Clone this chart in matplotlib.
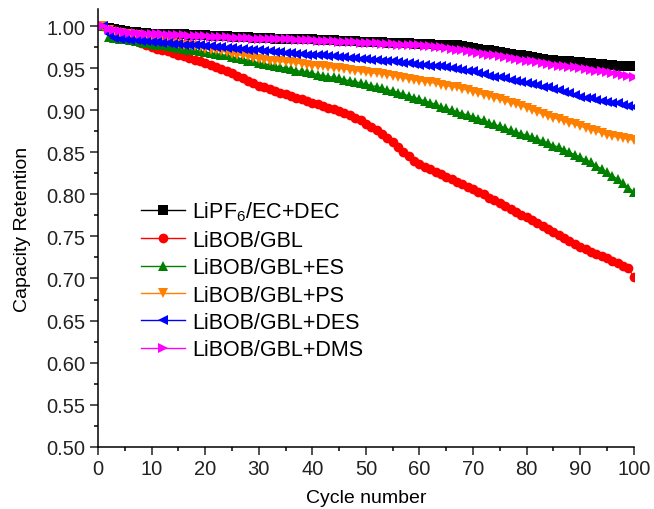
import numpy as np
import matplotlib.pyplot as plt

plt.rcParams['font.family'] = ['Liberation Sans', 'DejaVu Sans']
plt.rcParams['mathtext.fontset'] = 'custom'
plt.rcParams['mathtext.rm'] = 'Liberation Sans'

cycles = np.arange(1, 101)

lipf6_ec_dec = [
    1.000, 0.998, 0.996, 0.995, 0.994, 0.993, 0.993, 0.992, 0.992, 0.991,
    0.991, 0.991, 0.990, 0.990, 0.990, 0.990, 0.989, 0.989, 0.989, 0.989,
    0.988, 0.988, 0.988, 0.988, 0.987, 0.987, 0.987, 0.987, 0.986, 0.986,
    0.986, 0.986, 0.985, 0.985, 0.985, 0.985, 0.984, 0.984, 0.984, 0.984,
    0.983, 0.983, 0.983, 0.983, 0.982, 0.982, 0.982, 0.982, 0.981, 0.981,
    0.981, 0.981, 0.981, 0.980, 0.980, 0.980, 0.980, 0.980, 0.979, 0.979,
    0.979, 0.979, 0.978, 0.978, 0.978, 0.978, 0.977, 0.976, 0.975, 0.974,
    0.973, 0.972, 0.971, 0.970, 0.969, 0.968, 0.967, 0.966, 0.965, 0.964,
    0.963, 0.962, 0.961, 0.960, 0.960, 0.959, 0.958, 0.958, 0.957, 0.957,
    0.956, 0.956, 0.955, 0.955, 0.954, 0.954, 0.953, 0.953, 0.952, 0.952,
]

libob_gbl = [
    1.000, 0.995, 0.992, 0.990, 0.988, 0.985, 0.983, 0.980, 0.978, 0.975,
    0.973, 0.971, 0.970, 0.968, 0.966, 0.964, 0.962, 0.960, 0.958, 0.956,
    0.954, 0.951, 0.949, 0.947, 0.944, 0.941, 0.938, 0.935, 0.932, 0.929,
    0.927, 0.925, 0.923, 0.921, 0.919, 0.917, 0.915, 0.913, 0.911, 0.909,
    0.907, 0.905, 0.903, 0.901, 0.899, 0.897, 0.894, 0.891, 0.888, 0.884,
    0.880, 0.876, 0.872, 0.867, 0.862, 0.856, 0.850, 0.845, 0.840, 0.836,
    0.833, 0.830, 0.827, 0.824, 0.821, 0.818, 0.815, 0.812, 0.809, 0.806,
    0.803, 0.800, 0.796, 0.793, 0.790, 0.786, 0.783, 0.779, 0.776, 0.773,
    0.769, 0.766, 0.762, 0.759, 0.755, 0.752, 0.748, 0.745, 0.741, 0.738,
    0.735, 0.732, 0.729, 0.727, 0.724, 0.721, 0.718, 0.715, 0.712, 0.702,
]

libob_gbl_es = [
    1.000, 0.987, 0.986, 0.985, 0.984, 0.983, 0.982, 0.981, 0.980, 0.979,
    0.978, 0.977, 0.976, 0.975, 0.974, 0.973, 0.972, 0.971, 0.970, 0.969,
    0.968, 0.967, 0.966, 0.965, 0.963, 0.962, 0.961, 0.959, 0.958, 0.956,
    0.955, 0.954, 0.952, 0.951, 0.950, 0.949, 0.947, 0.946, 0.945, 0.944,
    0.942, 0.941, 0.940, 0.939, 0.938, 0.936, 0.935, 0.934, 0.932, 0.931,
    0.929, 0.928, 0.926, 0.924, 0.923, 0.921, 0.919, 0.917, 0.915, 0.913,
    0.911, 0.909, 0.907, 0.904, 0.902, 0.900, 0.898, 0.896, 0.894, 0.892,
    0.890, 0.888, 0.885, 0.883, 0.881, 0.879, 0.876, 0.874, 0.872, 0.870,
    0.868, 0.866, 0.863, 0.861, 0.858, 0.856, 0.853, 0.850, 0.847, 0.844,
    0.841, 0.838, 0.834, 0.830, 0.826, 0.822, 0.818, 0.813, 0.808, 0.803,
]

libob_gbl_ps = [
    1.000, 0.995, 0.993, 0.992, 0.991, 0.990, 0.989, 0.988, 0.987, 0.985,
    0.984, 0.983, 0.982, 0.981, 0.979, 0.978, 0.977, 0.976, 0.975, 0.973,
    0.972, 0.971, 0.970, 0.969, 0.967, 0.966, 0.965, 0.964, 0.962, 0.961,
    0.960, 0.959, 0.959, 0.958, 0.957, 0.957, 0.956, 0.955, 0.954, 0.953,
    0.953, 0.952, 0.951, 0.950, 0.950, 0.949, 0.948, 0.947, 0.946, 0.945,
    0.944, 0.944, 0.943, 0.942, 0.941, 0.940, 0.938, 0.937, 0.936, 0.935,
    0.934, 0.933, 0.932, 0.930, 0.929, 0.928, 0.927, 0.925, 0.924, 0.922,
    0.920, 0.918, 0.917, 0.915, 0.913, 0.911, 0.909, 0.907, 0.905, 0.903,
    0.900, 0.898, 0.895, 0.893, 0.891, 0.889, 0.887, 0.885, 0.883, 0.881,
    0.879, 0.877, 0.875, 0.873, 0.871, 0.869, 0.868, 0.867, 0.866, 0.864,
]

libob_gbl_des = [
    1.000, 0.990, 0.986, 0.984, 0.984, 0.983, 0.983, 0.982, 0.982, 0.981,
    0.981, 0.980, 0.980, 0.979, 0.979, 0.978, 0.978, 0.977, 0.977, 0.976,
    0.976, 0.975, 0.975, 0.974, 0.974, 0.973, 0.973, 0.972, 0.972, 0.971,
    0.970, 0.970, 0.969, 0.969, 0.968, 0.968, 0.967, 0.967, 0.966, 0.966,
    0.965, 0.965, 0.964, 0.964, 0.963, 0.963, 0.962, 0.962, 0.961, 0.961,
    0.960, 0.960, 0.959, 0.959, 0.958, 0.957, 0.956, 0.956, 0.955, 0.954,
    0.954, 0.953, 0.952, 0.952, 0.951, 0.950, 0.949, 0.948, 0.947, 0.946,
    0.944, 0.943, 0.941, 0.940, 0.939, 0.938, 0.936, 0.935, 0.934, 0.932,
    0.931, 0.930, 0.928, 0.927, 0.925, 0.924, 0.922, 0.920, 0.918, 0.916,
    0.915, 0.914, 0.912, 0.911, 0.910, 0.909, 0.908, 0.906, 0.905, 0.904,
]

libob_gbl_dms = [
    1.000, 0.997, 0.995, 0.994, 0.993, 0.992, 0.992, 0.991, 0.991, 0.990,
    0.990, 0.990, 0.989, 0.989, 0.989, 0.989, 0.988, 0.988, 0.988, 0.988,
    0.987, 0.987, 0.987, 0.987, 0.986, 0.986, 0.986, 0.986, 0.985, 0.985,
    0.985, 0.985, 0.984, 0.984, 0.984, 0.984, 0.983, 0.983, 0.983, 0.983,
    0.982, 0.982, 0.982, 0.982, 0.981, 0.981, 0.981, 0.981, 0.980, 0.980,
    0.980, 0.980, 0.979, 0.979, 0.979, 0.978, 0.978, 0.978, 0.977, 0.977,
    0.976, 0.976, 0.975, 0.975, 0.974, 0.973, 0.972, 0.971, 0.970, 0.969,
    0.968, 0.967, 0.966, 0.965, 0.964, 0.963, 0.962, 0.961, 0.960, 0.959,
    0.958, 0.957, 0.956, 0.955, 0.954, 0.953, 0.952, 0.951, 0.951, 0.950,
    0.949, 0.948, 0.947, 0.946, 0.945, 0.944, 0.943, 0.942, 0.941, 0.940,
]

labels = ['LiPF$_6$/EC+DEC', 'LiBOB/GBL', 'LiBOB/GBL+ES',
          'LiBOB/GBL+PS', 'LiBOB/GBL+DES', 'LiBOB/GBL+DMS']
series = [lipf6_ec_dec, libob_gbl, libob_gbl_es,
          libob_gbl_ps, libob_gbl_des, libob_gbl_dms]
colors = ['#000000', '#ff0000', '#008000', '#ff8000', '#0000ff', '#ff00ff']
markers = ['s', 'o', '^', 'v', '<', '>']

fig = plt.figure(figsize=(6.54, 5.10), dpi=100)
ax = fig.add_axes([0.150, 0.122, 0.819, 0.858])

for y, lab, c, m in zip(series, labels, colors, markers):
    ax.plot(cycles, y, color=c, marker=m, markersize=7, linewidth=1,
            markeredgewidth=0, label=lab)

ax.set_xlim(0, 100)
ax.set_ylim(0.50, 1.02)
ax.set_xticks(np.arange(0, 101, 10))
ax.set_xticks(np.arange(5, 100, 10), minor=True)
ax.set_yticks(np.arange(0.50, 1.001, 0.05))
ax.set_yticks(np.arange(0.525, 1.02, 0.05), minor=True)
ax.yaxis.set_major_formatter(plt.FormatStrFormatter('%.2f'))

for side in ['top', 'right']:
    ax.spines[side].set_visible(False)
for side in ['left', 'bottom']:
    ax.spines[side].set_linewidth(1.1)
ax.tick_params(which='major', direction='out', length=6, width=1.1,
               labelsize=14.5, colors='#222222', pad=3)
ax.tick_params(which='minor', direction='out', length=3, width=1.1)

ax.set_xlabel('Cycle number', fontsize=14, labelpad=8)
ax.set_ylabel('Capacity Retention', fontsize=14, labelpad=11)

ax.legend(loc='upper left', bbox_to_anchor=(0.08, 0.565), frameon=False,
          fontsize=15.5, handlelength=2.05, handletextpad=0.33,
          labelspacing=0.3, borderaxespad=0, borderpad=0)

fig.savefig('out.png', dpi=100)
